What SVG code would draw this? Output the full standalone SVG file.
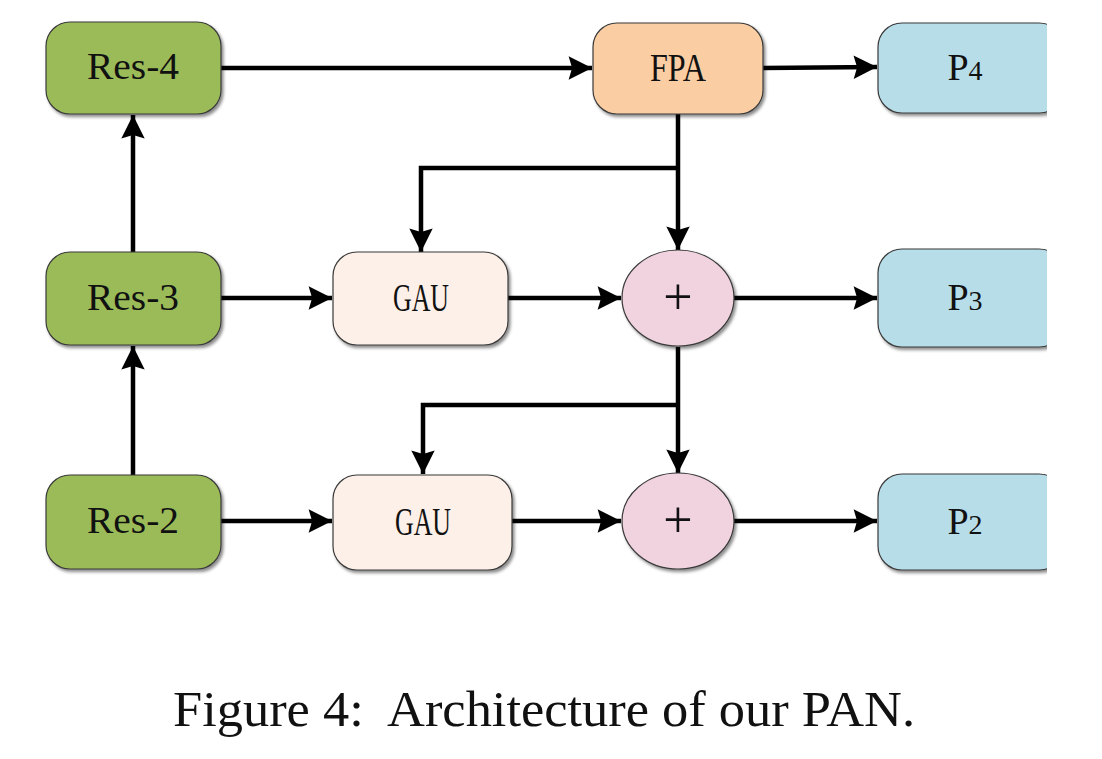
<svg xmlns="http://www.w3.org/2000/svg" width="1102" height="759" viewBox="0 0 1102 759">
<style>
.box{stroke:#3a3a3a;stroke-width:1.2;filter:url(#sh)}
.res{fill:#9bbb59}
.fpa{fill:#fbcda2}
.p{fill:#b7dde8}
.gau{fill:#fdf0e8}
.sum{fill:#f0d3df}
.lbl{font-family:"Liberation Serif","DejaVu Serif",serif;font-size:38px;fill:#111;text-anchor:middle}
.big{font-size:40px}
.plus{font-size:52px}
.con{fill:none;stroke:#000;stroke-width:4.5}
.cap{font-family:"Liberation Serif","Times New Roman",serif;font-size:50px;fill:#111}
</style>
<defs>
<filter id="sh" x="-10%" y="-10%" width="130%" height="130%">
<feDropShadow dx="2" dy="2.5" stdDeviation="1.5" flood-color="#000" flood-opacity="0.45"/>
</filter>
<marker id="ah" viewBox="0 0 10 10" refX="10" refY="5" markerWidth="5.4" markerHeight="5.2" markerUnits="strokeWidth" orient="auto">
<path d="M0,0 L10,5 L0,10 L1.5,5 z" fill="#000"/>
</marker>
<clipPath id="cp"><rect x="0" y="0" width="1047" height="759"/></clipPath>
</defs>
<rect width="1102" height="759" fill="#fff"/>

<g id="connectors">
<line class="con" x1="221" y1="68" x2="592" y2="68" marker-end="url(#ah)"/>
<line class="con" x1="763" y1="68" x2="877" y2="67" marker-end="url(#ah)"/>
<line class="con" x1="133" y1="252" x2="133" y2="115" marker-end="url(#ah)"/>
<line class="con" x1="133" y1="475" x2="133" y2="346" marker-end="url(#ah)"/>
<line class="con" x1="678" y1="114" x2="678" y2="250" marker-end="url(#ah)"/>
<polyline class="con" points="678,168 421,168 421,252" marker-end="url(#ah)"/>
<line class="con" x1="221" y1="298" x2="332" y2="298" marker-end="url(#ah)"/>
<line class="con" x1="508" y1="298" x2="621" y2="298" marker-end="url(#ah)"/>
<line class="con" x1="734" y1="298" x2="877" y2="298" marker-end="url(#ah)"/>
<line class="con" x1="678" y1="347" x2="678" y2="473" marker-end="url(#ah)"/>
<polyline class="con" points="678,405 423,405 423,474" marker-end="url(#ah)"/>
<line class="con" x1="221" y1="521" x2="332" y2="521" marker-end="url(#ah)"/>
<line class="con" x1="512" y1="521" x2="621" y2="521" marker-end="url(#ah)"/>
<line class="con" x1="734" y1="521" x2="877" y2="521" marker-end="url(#ah)"/>
</g>

<g id="res4">
<rect class="box res" x="46" y="22" width="175" height="92" rx="24"/>
<text class="lbl" x="133" y="79" textLength="92" lengthAdjust="spacingAndGlyphs">Res-4</text>
</g>
<g id="res3">
<rect class="box res" x="46" y="252" width="175" height="93" rx="24"/>
<text class="lbl" x="133" y="310" textLength="92" lengthAdjust="spacingAndGlyphs">Res-3</text>
</g>
<g id="res2">
<rect class="box res" x="46" y="475" width="175" height="94" rx="24"/>
<text class="lbl" x="133" y="533" textLength="92" lengthAdjust="spacingAndGlyphs">Res-2</text>
</g>
<g id="fpa">
<rect class="box fpa" x="593" y="23" width="170" height="91" rx="24"/>
<text class="lbl big" x="678" y="81" textLength="56" lengthAdjust="spacingAndGlyphs">FPA</text>
</g>
<g id="gau3">
<rect class="box gau" x="333" y="252" width="175" height="93" rx="24"/>
<text class="lbl big" x="421" y="311" textLength="56" lengthAdjust="spacingAndGlyphs">GAU</text>
</g>
<g id="gau2">
<rect class="box gau" x="333" y="475" width="179" height="95" rx="24"/>
<text class="lbl big" x="423" y="535" textLength="56" lengthAdjust="spacingAndGlyphs">GAU</text>
</g>
<g id="sum3">
<ellipse class="box sum" cx="678" cy="298" rx="56" ry="48"/>
<text class="lbl plus" x="678" y="314">+</text>
</g>
<g id="sum2">
<ellipse class="box sum" cx="678" cy="521" rx="56" ry="48"/>
<text class="lbl plus" x="678" y="537">+</text>
</g>
<g id="p4" clip-path="url(#cp)">
<rect class="box p" x="878" y="23" width="185" height="90" rx="24"/>
<text class="lbl" x="965" y="80">P<tspan font-size="28">4</tspan></text>
</g>
<g id="p3" clip-path="url(#cp)">
<rect class="box p" x="878" y="249" width="185" height="98" rx="24"/>
<text class="lbl" x="965" y="310">P<tspan font-size="28">3</tspan></text>
</g>
<g id="p2" clip-path="url(#cp)">
<rect class="box p" x="878" y="474" width="185" height="96" rx="24"/>
<text class="lbl" x="965" y="534">P<tspan font-size="28">2</tspan></text>
</g>

<text class="cap" x="173" y="726" xml:space="preserve" textLength="742" lengthAdjust="spacingAndGlyphs">Figure 4:  Architecture of our PAN.</text>
</svg>
